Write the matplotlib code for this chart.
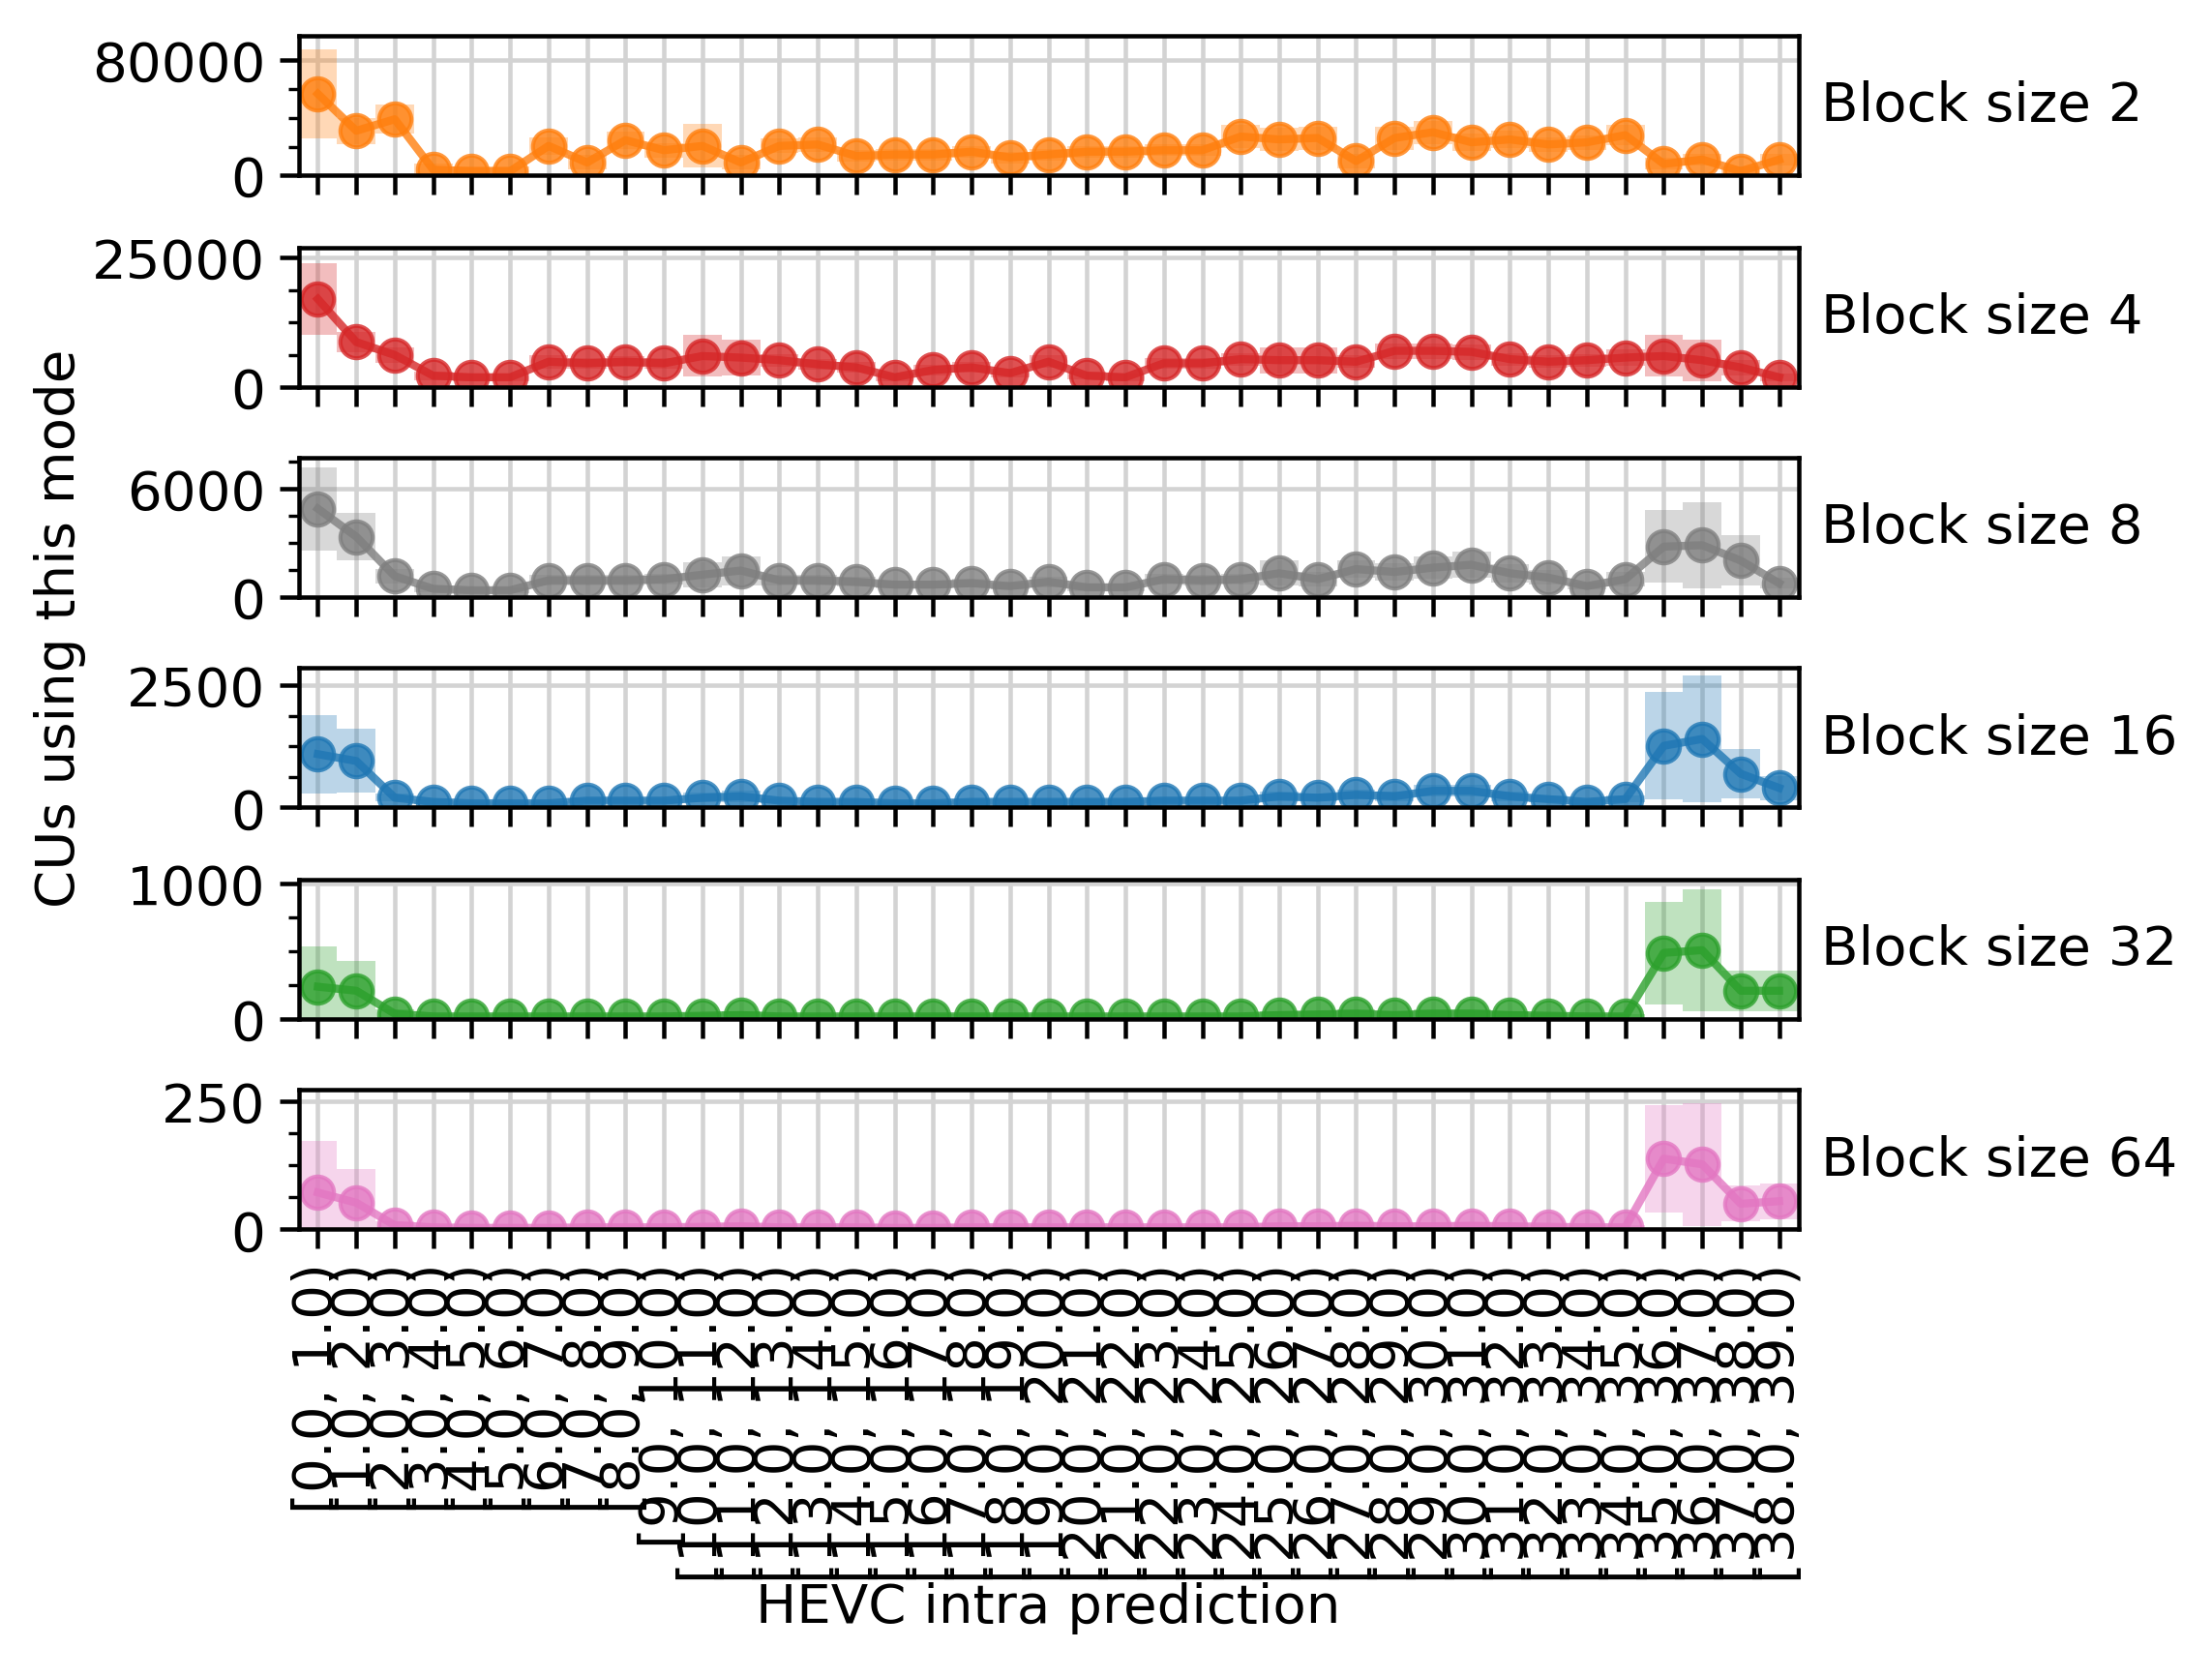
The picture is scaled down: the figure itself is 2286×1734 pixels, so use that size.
import numpy as np
import matplotlib
matplotlib.use('Agg')
import matplotlib.pyplot as plt
from matplotlib.ticker import AutoMinorLocator

# bins of the intra prediction mode
bins = ['[{:.1f}, {:.1f})'.format(i, i + 1) for i in range(39)]
block_sizes = [2, 4, 8, 16, 32, 64]
colors = ['tab:orange', 'tab:red', 'tab:gray', 'tab:blue', 'tab:green', 'tab:pink']

bs2 = [56600, 31000, 39000, 4000, 3000, 3000, 20500, 9000, 24500, 17500, 20500, 9000, 20500,
       21500, 13500, 14500, 14500, 16500, 12500, 14500, 16500, 16500, 17500, 17500, 27000, 25000,
       26000, 10000, 26000, 30000, 23000, 25000, 21500, 23000, 28000, 8000, 11000, 3000, 11000]
bs2_err = [31000, 9000, 10000, 4000, 3000, 3000, 6000, 5000, 6000, 5000, 15000, 5000, 5000,
           5000, 4000, 4000, 4000, 4000, 4000, 4000, 4000, 4000, 4000, 4000, 8000, 8000,
           8000, 5000, 8000, 8000, 6000, 6000, 5000, 5000, 7000, 4000, 4000, 3000, 4000]

bs4 = [17000, 8700, 6200, 2200, 1900, 1900, 4900, 4600, 4900, 4600, 6000, 5700, 5200, 4400,
       3800, 1900, 3300, 3800, 2700, 4900, 2200, 1900, 4600, 4600, 5400, 5200, 5200, 4900, 7000,
       7000, 6800, 5400, 4900, 5200, 5700, 6000, 5200, 3800, 1900]
bs4_err = [7000, 2000, 1500, 800, 700, 700, 1300, 1000, 1000, 1000, 4000, 3500, 1200, 1000,
           1000, 700, 1000, 1000, 800, 1200, 700, 700, 1000, 1000, 1200, 2500, 2500, 1200, 1500,
           1500, 1500, 1200, 1200, 1200, 1500, 4000, 4000, 1500, 700]

bs8 = [4900, 3350, 1170, 470, 390, 390, 940, 940, 940, 1000, 1250, 1480, 940, 940, 860, 700,
       700, 780, 620, 860, 550, 550, 1000, 940, 1000, 1330, 1000, 1560, 1400, 1640, 1800, 1330,
       1090, 620, 1000, 2800, 2880, 2030, 780]
bs8_err = [2300, 1300, 400, 200, 150, 150, 300, 300, 300, 300, 700, 800, 300, 300, 250, 200,
           200, 250, 200, 300, 200, 200, 300, 300, 300, 700, 400, 500, 500, 600, 700, 500,
           400, 200, 400, 2000, 2400, 1400, 300]

bs16 = [1090, 950, 200, 115, 86, 86, 86, 140, 140, 140, 200, 230, 140, 115, 115, 86, 86, 115,
        115, 115, 115, 115, 140, 140, 140, 230, 200, 260, 230, 340, 340, 230, 170, 115, 170, 1260,
        1400, 690, 400]
bs16_err = [800, 650, 80, 50, 40, 40, 40, 50, 50, 50, 100, 120, 50, 50, 50, 40, 40, 50,
            50, 50, 50, 50, 50, 50, 50, 100, 80, 100, 100, 120, 120, 100, 70, 50, 70, 1100,
            1300, 500, 250]

bs32 = [240, 210, 40, 20, 20, 20, 20, 20, 20, 20, 25, 30, 20, 20, 20, 20, 20, 20, 20, 20, 20,
        20, 20, 20, 20, 30, 35, 40, 30, 40, 40, 30, 25, 20, 20, 490, 510, 210, 210]
bs32_err = [300, 220, 30, 15, 15, 15, 15, 15, 15, 15, 20, 25, 15, 15, 15, 15, 15, 15, 15, 15, 15,
            15, 15, 15, 15, 25, 25, 30, 25, 30, 30, 25, 20, 15, 15, 380, 450, 150, 150]

bs64 = [72, 52, 8, 4, 3, 3, 3, 4, 4, 4, 5, 6, 4, 4, 4, 3, 3, 4, 4, 4, 4, 4, 4, 4, 4, 6, 6, 7,
        6, 6, 7, 6, 5, 4, 4, 138, 127, 50, 55]
bs64_err = [100, 65, 8, 4, 3, 3, 3, 4, 4, 4, 5, 6, 4, 4, 4, 3, 3, 4, 4, 4, 4, 4, 4, 4, 4, 6, 6, 7,
            6, 6, 7, 6, 5, 4, 4, 105, 120, 35, 35]

series = [(bs2, bs2_err), (bs4, bs4_err), (bs8, bs8_err), (bs16, bs16_err),
          (bs32, bs32_err), (bs64, bs64_err)]
ymax = [96600, 26900, 7700, 2845, 1030, 272]
yticks = [[0, 80000], [0, 25000], [0, 6000], [0, 2500], [0, 1000], [0, 250]]

s = 1.35  # reference is drawn a bit larger than default
plt.rcParams.update({
    'font.size': 10 * s,
    'axes.linewidth': 0.8 * s,
    'xtick.major.size': 3.5 * s, 'ytick.major.size': 3.5 * s,
    'xtick.major.width': 0.8 * s, 'ytick.major.width': 0.8 * s,
    'xtick.minor.size': 2 * s, 'ytick.minor.size': 2 * s,
    'xtick.minor.width': 0.6 * s, 'ytick.minor.width': 0.6 * s,
})
fig = plt.figure(figsize=(7.62, 5.783), dpi=300)
x = np.arange(len(bins))
left, width, h = 0.135, 0.678, 0.083
tops = [26, 176, 325, 474, 624, 773]

for k, ((vals, err), col) in enumerate(zip(series, colors)):
    bottom = 1 - (tops[k] + 99) / 1190
    ax = fig.add_axes([left, bottom, width, h])
    vals = np.array(vals, float)
    err = np.array(err, float)
    lo = np.clip(vals - err, 0, None)
    hi = vals + err
    ax.bar(x, hi - lo, bottom=lo, width=1.0, color=col, alpha=0.3, linewidth=0)
    ax.plot(x, vals, '-o', color=col, alpha=0.8, markersize=8, linewidth=2)
    ax.set_xlim(-0.5, 38.5)
    ax.set_ylim(0, ymax[k])
    ax.set_yticks(yticks[k])
    ax.yaxis.set_minor_locator(AutoMinorLocator(4))
    ax.set_xticks(x)
    ax.grid(True, axis='both', color='lightgray', linewidth=1.1)
    ax.set_axisbelow(True)
    ax.text(1.015, 0.5, 'Block size {}'.format(block_sizes[k]), transform=ax.transAxes,
            va='center', ha='left')
    if k == len(series) - 1:
        ax.set_xticklabels(bins, rotation=90)
    else:
        ax.set_xticklabels([])

fig.text(0.027, 0.626, 'CUs using this mode', rotation=90, va='center', ha='center')
fig.text(0.474, 0.042, 'HEVC intra prediction', va='center', ha='center')

fig.savefig('out.png', dpi=300)
